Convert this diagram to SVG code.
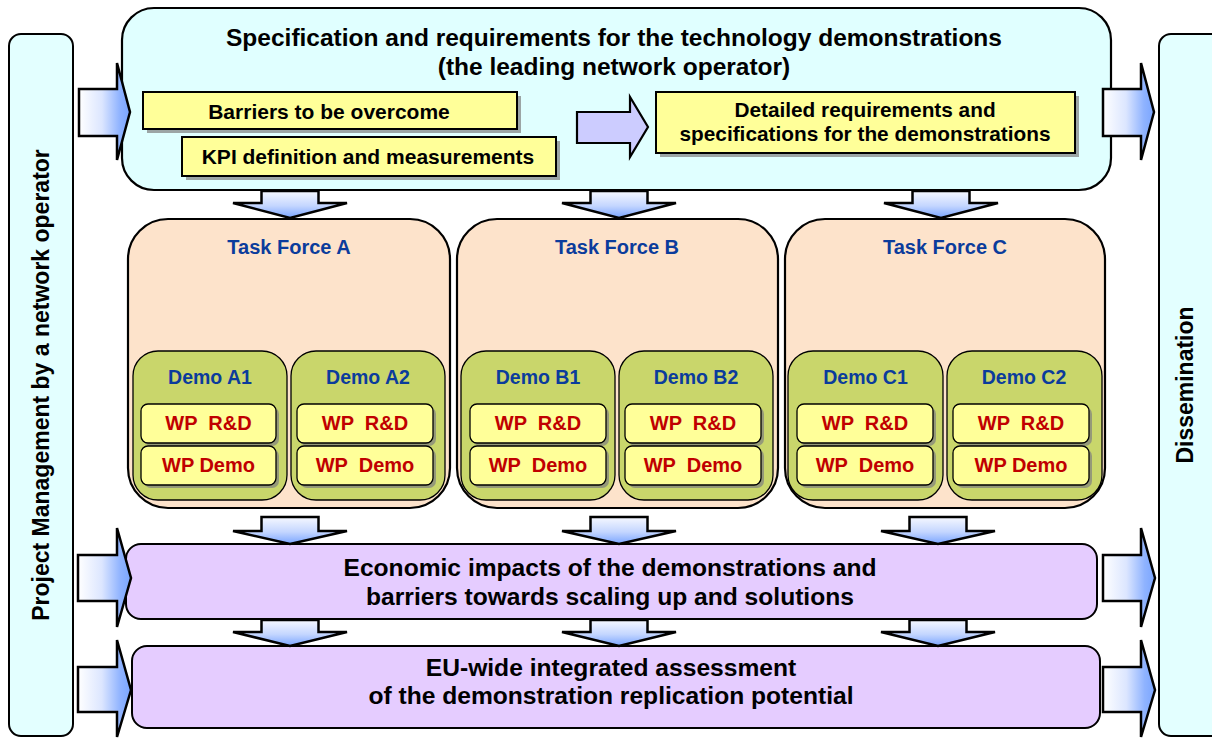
<svg xmlns="http://www.w3.org/2000/svg" width="1212" height="738" viewBox="0 0 1212 738">
<style>
text{font-family:"Liberation Sans",Arial,sans-serif;font-weight:bold;text-anchor:middle;white-space:pre}
.bar{fill:#E3FFFF;stroke:#000;stroke-width:2}
.top{fill:#E0FFFF;stroke:#000;stroke-width:2.2}
.yel{fill:#FFFF99;stroke:#000;stroke-width:2}
.shd{fill:#7F7F7F;opacity:.7}
.tf{fill:#FDE3CB;stroke:#000;stroke-width:2.2}
.demo{fill:#C9D66B;stroke:#000;stroke-width:1.3}
.wp{fill:#FFFF99;stroke:#000;stroke-width:1.3}
.pur{fill:#E5CCFF;stroke:#000;stroke-width:2}
.ha{fill:url(#gh);stroke:#000;stroke-width:2.5;stroke-linejoin:miter}
.va{fill:url(#gv);stroke:#000;stroke-width:2.5;stroke-linejoin:miter}
.ma{fill:#CCCCFF;stroke:#000;stroke-width:2.2}
.blue{fill:#0B3C9C}
.red{fill:#C00000;font-size:20px}
</style>
<defs>
<linearGradient id="gh" x1="0" y1="0" x2="1" y2="0">
<stop offset="0" stop-color="#FFFFFF"/>
<stop offset="0.45" stop-color="#DCE6FF"/>
<stop offset="0.8" stop-color="#8FB3FF"/>
<stop offset="1" stop-color="#7AA5FF"/>
</linearGradient>
<linearGradient id="gv" x1="0" y1="0" x2="0" y2="1">
<stop offset="0" stop-color="#F6F8FF"/>
<stop offset="0.55" stop-color="#C4D6FF"/>
<stop offset="1" stop-color="#7AA5FF"/>
</linearGradient>
</defs>

<g id="pm">
<rect class="bar" x="9" y="34" width="64" height="702" rx="12"/>
<text font-size="23" transform="translate(49 385) rotate(-90)">Project Management by a network operator</text>
</g>
<g id="dissemination">
<rect class="bar" x="1159" y="34" width="70" height="702" rx="12"/>
<text font-size="23" transform="translate(1193 385) rotate(-90)">Dissemination</text>
</g>

<g id="spec">
<rect class="top" x="122" y="8" width="989" height="182" rx="32"/>
<text font-size="24.5" x="614" y="46">Specification and requirements for the technology demonstrations</text>
<text font-size="24.5" x="614" y="75">(the leading network operator)</text>
</g>
<g id="barriers">
<rect class="shd" x="147" y="96" width="374" height="37"/>
<rect class="yel" x="143" y="92" width="374" height="37"/>
<text font-size="21" x="329" y="119">Barriers to be overcome</text>
</g>
<g id="kpi">
<rect class="shd" x="186" y="141" width="374" height="39"/>
<rect class="yel" x="182" y="137" width="374" height="39"/>
<text font-size="21" x="368" y="164">KPI definition and measurements</text>
</g>
<g id="detailed">
<rect class="shd" x="660" y="96" width="419" height="61"/>
<rect class="yel" x="656" y="92" width="419" height="61"/>
<text font-size="20.8" x="865" y="117">Detailed requirements and</text>
<text font-size="20.8" x="865" y="141">specifications for the demonstrations</text>
</g>

<g id="tfA">
<rect class="tf" x="128" y="219" width="322" height="289" rx="40"/>
<text class="blue" font-size="20" x="289" y="254">Task Force A</text>
</g>
<g id="tfB">
<rect class="tf" x="457" y="219" width="321" height="289" rx="40"/>
<text class="blue" font-size="20" x="617" y="254">Task Force B</text>
</g>
<g id="tfC">
<rect class="tf" x="785" y="219" width="320" height="289" rx="40"/>
<text class="blue" font-size="20" x="945" y="254">Task Force C</text>
</g>

<g id="demoA1">
<rect class="demo" x="133" y="351" width="154" height="149" rx="25"/>
<text class="blue" font-size="19.5" x="210" y="384">Demo A1</text>
<rect class="shd" x="144" y="407" width="135" height="39" rx="7"/>
<rect class="wp" x="141" y="404" width="135" height="39" rx="7"/>
<text class="red" x="208.5" y="430">WP  R&amp;D</text>
<rect class="shd" x="144" y="449" width="135" height="39" rx="7"/>
<rect class="wp" x="141" y="446" width="135" height="39" rx="7"/>
<text class="red" x="208.5" y="472">WP Demo</text>
</g>
<g id="demoA2">
<rect class="demo" x="291" y="351" width="154" height="149" rx="25"/>
<text class="blue" font-size="19.5" x="368" y="384">Demo A2</text>
<rect class="shd" x="300" y="407" width="136" height="39" rx="7"/>
<rect class="wp" x="297" y="404" width="136" height="39" rx="7"/>
<text class="red" x="365" y="430">WP  R&amp;D</text>
<rect class="shd" x="300" y="449" width="136" height="39" rx="7"/>
<rect class="wp" x="297" y="446" width="136" height="39" rx="7"/>
<text class="red" x="365" y="472">WP  Demo</text>
</g>
<g id="demoB1">
<rect class="demo" x="461" y="351" width="154" height="149" rx="25"/>
<text class="blue" font-size="19.5" x="538" y="384">Demo B1</text>
<rect class="shd" x="473" y="407" width="136" height="39" rx="7"/>
<rect class="wp" x="470" y="404" width="136" height="39" rx="7"/>
<text class="red" x="538" y="430">WP  R&amp;D</text>
<rect class="shd" x="473" y="449" width="136" height="39" rx="7"/>
<rect class="wp" x="470" y="446" width="136" height="39" rx="7"/>
<text class="red" x="538" y="472">WP  Demo</text>
</g>
<g id="demoB2">
<rect class="demo" x="619" y="351" width="154" height="149" rx="25"/>
<text class="blue" font-size="19.5" x="696" y="384">Demo B2</text>
<rect class="shd" x="628" y="407" width="136" height="39" rx="7"/>
<rect class="wp" x="625" y="404" width="136" height="39" rx="7"/>
<text class="red" x="693" y="430">WP  R&amp;D</text>
<rect class="shd" x="628" y="449" width="136" height="39" rx="7"/>
<rect class="wp" x="625" y="446" width="136" height="39" rx="7"/>
<text class="red" x="693" y="472">WP  Demo</text>
</g>
<g id="demoC1">
<rect class="demo" x="788" y="351" width="155" height="149" rx="25"/>
<text class="blue" font-size="19.5" x="865.5" y="384">Demo C1</text>
<rect class="shd" x="800" y="407" width="136" height="39" rx="7"/>
<rect class="wp" x="797" y="404" width="136" height="39" rx="7"/>
<text class="red" x="865" y="430">WP  R&amp;D</text>
<rect class="shd" x="800" y="449" width="136" height="39" rx="7"/>
<rect class="wp" x="797" y="446" width="136" height="39" rx="7"/>
<text class="red" x="865" y="472">WP  Demo</text>
</g>
<g id="demoC2">
<rect class="demo" x="947" y="351" width="155" height="149" rx="25"/>
<text class="blue" font-size="19.5" x="1024" y="384">Demo C2</text>
<rect class="shd" x="956" y="407" width="136" height="39" rx="7"/>
<rect class="wp" x="953" y="404" width="136" height="39" rx="7"/>
<text class="red" x="1021" y="430">WP  R&amp;D</text>
<rect class="shd" x="956" y="449" width="136" height="39" rx="7"/>
<rect class="wp" x="953" y="446" width="136" height="39" rx="7"/>
<text class="red" x="1021" y="472">WP Demo</text>
</g>

<g id="economic">
<rect class="pur" x="126" y="544" width="971" height="75" rx="15"/>
<text font-size="24.6" x="610" y="576">Economic impacts of the demonstrations and</text>
<text font-size="24.6" x="610" y="605">barriers towards scaling up and solutions</text>
</g>
<g id="eu">
<rect class="pur" x="132" y="646" width="968" height="82" rx="15"/>
<text font-size="24.6" x="611" y="676">EU-wide integrated assessment</text>
<text font-size="24.6" x="611" y="704">of the demonstration replication potential</text>
</g>

<g id="connectors">
<polygon class="ma" points="577,112 630,112 630,97 648,127 630,157 630,143 577,143"/>
<polygon class="ha" points="79,89 117,89 117,63 130,112 117,160 117,136 79,136"/>
<polygon class="ha" points="1103,89 1141,89 1141,63 1154,112 1141,160 1141,136 1103,136"/>
<polygon class="ha" points="78,555 117,555 117,528 131,578 117,627 117,601 78,601"/>
<polygon class="ha" points="78,667 117,667 117,640 131,690 117,737 117,712 78,712"/>
<polygon class="ha" points="1103,555 1141,555 1141,528 1155,578 1141,627 1141,601 1103,601"/>
<polygon class="ha" points="1103,667 1141,667 1141,640 1155,690 1141,737 1141,712 1103,712"/>
<polygon class="va" points="261.5,191 318.5,191 318.5,203 347,203 290,218 233,203 261.5,203"/>
<polygon class="va" points="590.5,191 647.5,191 647.5,203 676,203 619,218 562,203 590.5,203"/>
<polygon class="va" points="912.5,191 969.5,191 969.5,203 998,203 941,218 884,203 912.5,203"/>
<polygon class="va" points="261.5,517 318.5,517 318.5,531 347,531 290,544 233,531 261.5,531"/>
<polygon class="va" points="590.5,517 647.5,517 647.5,531 676,531 619,544 562,531 590.5,531"/>
<polygon class="va" points="909.5,517 966.5,517 966.5,531 995,531 938,544 881,531 909.5,531"/>
<polygon class="va" points="261.5,620 318.5,620 318.5,632 347,632 290,646 233,632 261.5,632"/>
<polygon class="va" points="590.5,620 647.5,620 647.5,632 676,632 619,646 562,632 590.5,632"/>
<polygon class="va" points="909.5,620 966.5,620 966.5,632 995,632 938,646 881,632 909.5,632"/>
</g>
</svg>
